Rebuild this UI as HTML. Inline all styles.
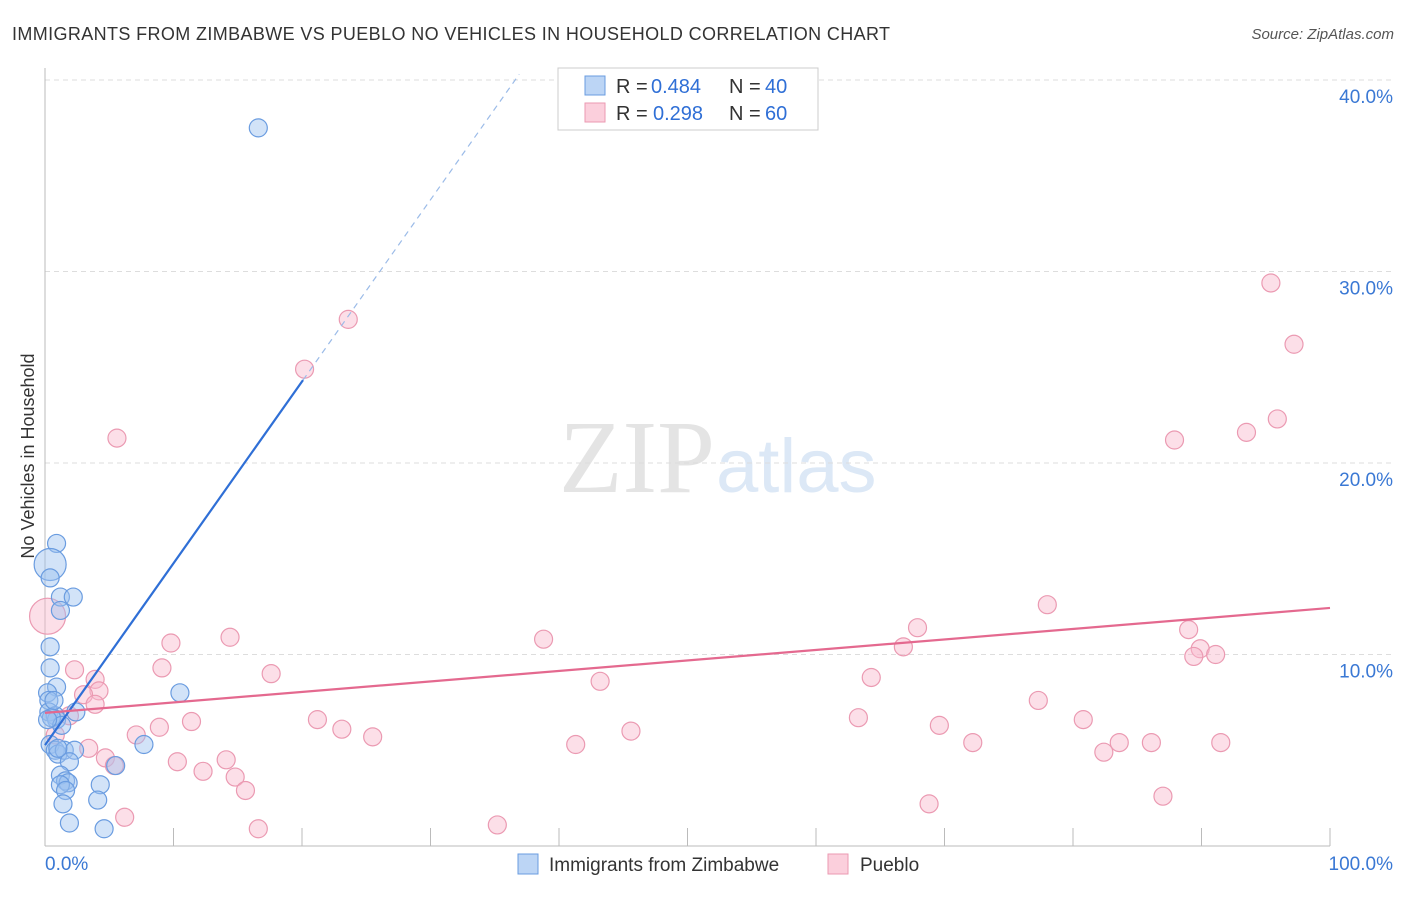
<!DOCTYPE html>
<html><head><meta charset="utf-8"><style>
body{margin:0;background:#fff;font-family:"Liberation Sans",sans-serif;}
svg text{font-family:"Liberation Sans",sans-serif;}
</style></head><body>
<svg id="chart" width="1406" height="892">
<text x="12" y="40" font-size="18" fill="#333" textLength="878">IMMIGRANTS FROM ZIMBABWE VS PUEBLO NO VEHICLES IN HOUSEHOLD CORRELATION CHART</text>
<text x="1394" y="39" font-size="15" fill="#555" font-style="italic" text-anchor="end">Source: ZipAtlas.com</text>
<text x="715" y="492" font-size="104" fill="#e4e4e4" text-anchor="end" style="font-family:'Liberation Serif',serif">ZIP</text>
<text x="716" y="492" font-size="76" fill="#dce8f6">atlas</text>
<g id="grid"></g>
<g id="axes"></g>
<g id="marks"></g>
<text transform="translate(34,456) rotate(-90)" font-size="18" fill="#333" text-anchor="middle">No Vehicles in Household</text>
<g>
<rect x="558" y="68" width="260" height="62" fill="#fff" stroke="#ccc"/>
<rect x="585" y="76" width="20" height="19" fill="#bcd5f5" stroke="#6a9ce0"/>
<rect x="585" y="103" width="20" height="19" fill="#fbcfdc" stroke="#eb9ab2"/>
<text x="616" y="93" font-size="20" fill="#333">R =</text>
<text x="651" y="93" font-size="20" fill="#2f6fd6">0.484</text>
<text x="729" y="93" font-size="20" fill="#333">N =</text>
<text x="765" y="93" font-size="20" fill="#2f6fd6">40</text>
<text x="616" y="120" font-size="20" fill="#333">R =</text>
<text x="653" y="120" font-size="20" fill="#2f6fd6">0.298</text>
<text x="729" y="120" font-size="20" fill="#333">N =</text>
<text x="765" y="120" font-size="20" fill="#2f6fd6">60</text>
</g>
<g>
<rect x="518" y="854" width="20" height="20" fill="#bcd5f5" stroke="#6a9ce0"/>
<text x="549" y="871" font-size="19" fill="#333">Immigrants from Zimbabwe</text>
<rect x="828" y="854" width="20" height="20" fill="#fbcfdc" stroke="#eb9ab2"/>
<text x="860" y="871" font-size="19" fill="#333">Pueblo</text>
</g>
</svg>
<script>
const blueX=[16.6,0.9,0.4,0.4,1.2,2.2,1.2,0.4,0.4,0.9,0.2,0.3,0.3,0.8,0.9,2.4,10.5,0.4,0.8,1.0,1.5,2.3,1.9,7.7,5.5,1.2,1.6,1.8,1.2,1.6,4.3,1.4,4.1,1.9,4.6,0.5,1.3,0.2,1.0,0.7];
const blueY=[37.5,15.8,14.7,14.0,13.0,13.0,12.3,10.4,9.3,8.3,8.0,7.6,7.0,6.8,6.6,7.0,8.0,5.3,5.0,4.8,5.0,5.0,4.4,5.3,4.2,3.7,3.4,3.3,3.2,2.9,3.2,2.2,2.4,1.2,0.9,6.7,6.3,6.6,5.1,7.6];
const pinkX=[95.4,97.2,95.9,93.5,87.9,23.6,20.2,5.6,78.0,67.9,89.0,89.9,89.4,91.1,38.8,14.4,9.8,66.8,2.3,9.1,17.6,3.9,4.2,3.0,43.2,64.3,77.3,80.8,21.2,11.4,8.9,7.1,23.1,25.5,69.6,45.6,63.3,3.4,4.7,5.4,10.3,12.3,14.1,14.8,15.6,72.2,83.6,86.1,91.5,82.4,41.3,68.8,87.0,6.2,16.6,35.2,0.2,3.9,1.9,0.8];
const pinkY=[29.4,26.2,22.3,21.6,21.2,27.5,24.9,21.3,12.6,11.4,11.3,10.3,9.9,10.0,10.8,10.9,10.6,10.4,9.2,9.3,9.0,8.7,8.1,7.9,8.6,8.8,7.6,6.6,6.6,6.5,6.2,5.8,6.1,5.7,6.3,6.0,6.7,5.1,4.6,4.2,4.4,3.9,4.5,3.6,2.9,5.4,5.4,5.4,5.4,4.9,5.3,2.2,2.6,1.5,0.9,1.1,12.0,7.4,6.8,5.8];
const blueBig=[2];
const pinkBig=[56];
const blueTrend=[5.27,24.33,20.08];
const pinkTrend=[6.95,12.43];
const yTicks=[10,20,30,40];
const yTickLabels=["10.0%","20.0%","30.0%","40.0%"];
const xTicks=[0,10,20,30,40,50,60,70,80,90,100];
const xs=v=>45+v*12.85, ys=v=>846-v*19.15;
const NS="http://www.w3.org/2000/svg";
function mk(tag,attrs,parent){const e=document.createElementNS(NS,tag);for(const k in attrs)e.setAttribute(k,attrs[k]);document.getElementById(parent).appendChild(e);return e;}
yTicks.forEach((t,i)=>{
 const l=mk('line',{x1:45,x2:1393,y1:ys(t),y2:ys(t),stroke:'#ddd','stroke-dasharray':'5,4'},'grid');
 
 
 const tx=mk('text',{x:1393,y:ys(t)+23,'font-size':19,fill:'#3a78d4','text-anchor':'end'},'axes');
 tx.textContent=yTickLabels[i];
 
 
});
const ya=mk('line',{x1:45,x2:45,y1:68,y2:846,stroke:'#bbb'},'axes');


const xa=mk('line',{x1:45,x2:1330,y1:846,y2:846,stroke:'#bbb'},'axes');


xTicks.forEach(t=>{
 const l=mk('line',{x1:xs(t),x2:xs(t),y1:828,y2:846,stroke:'#bbb'},'axes');
 
 
});
const xl0=mk('text',{x:45,y:870,'font-size':19,fill:'#3a78d4'},'axes');xl0.textContent='0.0%';


const xl1=mk('text',{x:1393,y:870,'font-size':19,fill:'#3a78d4','text-anchor':'end'},'axes');xl1.textContent='100.0%';


pinkX.forEach((x,i)=>{
 const c=mk('circle',{cx:xs(x),cy:ys(pinkY[i]),r:pinkBig.includes(i)?18:9,fill:'rgba(248,185,203,0.45)',stroke:'#eb9ab2','stroke-width':1.2},'marks');
 
 
});
blueX.forEach((x,i)=>{
 const c=mk('circle',{cx:xs(x),cy:ys(blueY[i]),r:blueBig.includes(i)?16:9,fill:'rgba(155,192,240,0.45)',stroke:'#6a9ce0','stroke-width':1.2},'marks');
 
 
});
const slope=(blueTrend[1]-blueTrend[0])/blueTrend[2];
const xEnd=(40.3-blueTrend[0])/slope;
const bd=mk('line',{x1:xs(blueTrend[2]),y1:ys(blueTrend[1]),x2:xs(xEnd),y2:ys(40.3),stroke:'#9bbbe8','stroke-width':1.2,'stroke-dasharray':'6,5'},'marks');


const bl=mk('line',{x1:xs(0),y1:ys(blueTrend[0]),x2:xs(blueTrend[2]),y2:ys(blueTrend[1]),stroke:'#2f6fd6','stroke-width':2.2},'marks');


const pl=mk('line',{x1:xs(0),y1:ys(pinkTrend[0]),x2:xs(100),y2:ys(pinkTrend[1]),stroke:'#e4698f','stroke-width':2.2},'marks');


</script>
</body></html>
